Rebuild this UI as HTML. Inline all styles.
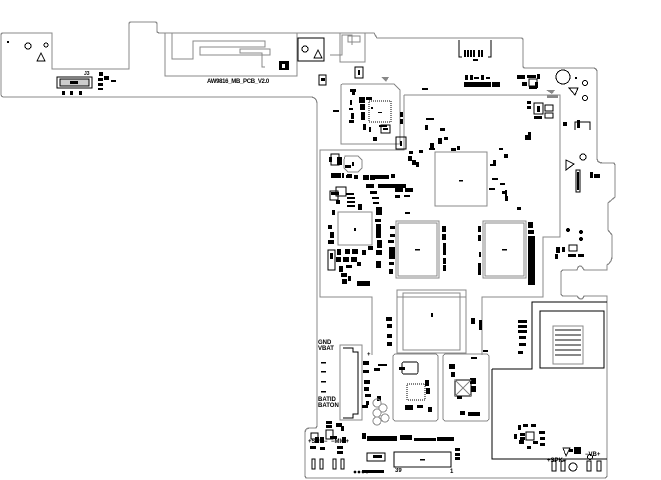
<!DOCTYPE html>
<html><head><meta charset="utf-8"><style>
html,body{margin:0;padding:0;background:#fff;width:661px;height:480px;overflow:hidden}
svg{display:block}
text{font-family:"Liberation Sans",sans-serif;font-weight:bold;fill:#000}
</style></head><body>
<svg width="661" height="480" viewBox="0 0 661 480" xmlns="http://www.w3.org/2000/svg" shape-rendering="crispEdges">
<path d="M3,33 H52 V69 H129 V24 Q129,22 131,22 H155 Q157,22 157,24 V31 Q157,33 160,33 H374 L377,38 H521 Q523,38 523,40 V66 Q523,68 525,68 H593 Q597,68 597,72 V158 Q597,163 603,163 H613 Q615,163 615,166 V197 L608,203 V230 L612,235 V256 Q612,262 607,265 V270 H584 Q582,266 580,266 Q578,266 577,270 H564 Q561,270 561,273 V293 Q561,296 564,296 H577 Q579,299 581,299 Q583,299 584,296 H607 V475 Q607,478 604,478 H307 Q305,478 305,475 V433 Q305,428 310,428 H315 Q317,428 317,425 V104 Q317,97 310,97 H4 Q1,97 1,94 V35 Q1,33 3,33 Z" fill="none" stroke="#888" stroke-width="1.2"/>
<g fill="none" stroke="#888" stroke-width="1">
<rect x="165" y="33" width="132" height="43"/>
<path d="M172,33 V59 H193 V41 H265 V47 H200 V55 H270 V49 H240 V53 H262 V67 H265"/>
<rect x="340" y="33" width="25" height="29"/>
<path d="M330,55 H342 V35 H352 V45"/>
<rect x="348" y="36" width="12" height="6"/>
<path d="M341,86 Q341,84 343,84 H394 L400,90 V144 H341 Z"/>
<path d="M404,95 H560 V237 H543 V297 H482 V355 M466,297 H397 M372,355 V297 H320 V150 H404 V95"/>
<rect x="397" y="290" width="69" height="63"/>
<rect x="403" y="293" width="57" height="57"/>
<rect x="393" y="354" width="45" height="67" rx="3"/>
<rect x="443" y="354" width="46" height="67" rx="3"/>
<rect x="340" y="345" width="22" height="75"/>
</g>
<rect x="298" y="38" width="26" height="23" fill="none" stroke="#000" stroke-width="1"/>
<circle cx="305" cy="49" r="3" fill="none" stroke="#000"/>
<path d="M314,58 L318,50 L322,58 Z" fill="none" stroke="#000"/>
<rect x="7" y="41" width="2" height="2" fill="#000"/>
<circle cx="28" cy="46" r="3" fill="none" stroke="#000"/>
<circle cx="46" cy="45" r="2" fill="none" stroke="#000"/>
<path d="M37,61 L41,53 L45,61 Z" fill="none" stroke="#000"/>
<rect x="57" y="77" width="35" height="11" fill="none" stroke="#000"/>
<rect x="60" y="79" width="29" height="7" fill="#ccc" stroke="#000" stroke-width=".6"/>
<rect x="70" y="81" width="8" height="3" fill="#000"/>
<text x="84" y="75" font-size="5">J3</text>
<g fill="#000">
<rect x="62" y="91" width="3" height="4"/><rect x="70" y="91" width="3" height="4"/><rect x="79" y="91" width="3" height="4"/>
<rect x="99" y="72" width="4" height="4"/><rect x="98" y="78" width="5" height="3"/><rect x="98" y="83" width="5" height="3"/><rect x="104" y="76" width="5" height="4"/><rect x="111" y="80" width="5" height="2"/><rect x="98" y="88" width="5" height="2"/>
<rect x="279" y="61" width="10" height="9"/><rect x="282" y="64" width="3" height="4" fill="#fff"/>
</g>
<text x="207" y="83" font-size="6" font-weight="normal" letter-spacing="-0.3">AW9816_MB_PCB_V2.0</text>
<rect x="355" y="67" width="8" height="11" fill="none" stroke="#000"/><rect x="358" y="70" width="2" height="5" fill="#000"/>
<rect x="319" y="75" width="7" height="10" fill="none" stroke="#000"/><rect x="321" y="78" width="4" height="3" fill="#000"/>
<path d="M381,77 H389 L386,82 Z" fill="#888"/>
<path d="M459,40 V57 H462 M491,40 V57 H488" fill="none" stroke="#000"/>
<g fill="#000">
<rect x="464" y="50" width="2" height="7"/><rect x="467" y="50" width="2" height="7"/><rect x="470" y="50" width="2" height="7"/><rect x="473" y="50" width="2" height="7"/><rect x="478" y="50" width="2" height="7"/><rect x="481" y="50" width="2" height="7"/>
<rect x="473" y="59" width="5" height="2"/><rect x="422" y="88" width="6" height="2"/>
<rect x="465" y="75" width="3" height="5"/><rect x="470" y="75" width="3" height="5"/><rect x="474" y="77" width="5" height="2"/><rect x="481" y="75" width="3" height="5"/><rect x="486" y="77" width="4" height="2"/>
<rect x="464" y="82" width="27" height="5"/><rect x="492" y="82" width="8" height="5"/>
<rect x="517" y="75" width="8" height="4"/><rect x="527" y="75" width="9" height="3"/><rect x="537" y="74" width="3" height="5"/><rect x="522" y="82" width="5" height="4"/><rect x="529" y="86" width="8" height="3"/><rect x="535" y="82" width="3" height="6"/>
</g>
<rect x="529" y="79" width="8" height="7" fill="none" stroke="#000"/>
<circle cx="563" cy="77" r="7" fill="none" stroke="#000"/>
<circle cx="585" cy="83" r="2.5" fill="none" stroke="#000"/><circle cx="585" cy="98" r="2.5" fill="none" stroke="#000"/>
<rect x="575" y="77" width="2" height="2" fill="#000"/>
<path d="M569,88 H578 L575,95 Z" fill="none" stroke="#000"/>
<path d="M546,90 H555 L552,94 Z" fill="#888"/>
<rect x="547" y="95" width="11" height="3" fill="#888"/>
<rect x="534" y="103" width="9" height="11" fill="none" stroke="#000"/><rect x="537" y="106" width="3" height="6" fill="#000"/>
<rect x="545" y="105" width="8" height="6" fill="none" stroke="#000"/><rect x="545" y="113" width="8" height="5" fill="none" stroke="#000"/>
<g fill="#000"><rect x="527" y="101" width="4" height="3"/><rect x="527" y="106" width="4" height="3"/><rect x="534" y="116" width="8" height="3"/><rect x="563" y="122" width="4" height="4"/><rect x="577" y="120" width="3" height="8"/></g>
<path d="M575,130 V122 H590 V130" fill="none" stroke="#000"/>
<circle cx="583" cy="157" r="3" fill="none" stroke="#000"/>
<path d="M566,160 V170 L574,164 Z" fill="none" stroke="#000"/>
<rect x="576" y="170" width="4" height="22" fill="none" stroke="#000"/><rect x="577" y="172" width="2" height="18" fill="#000"/>
<g fill="#000"><rect x="590" y="172" width="3" height="6"/><rect x="594" y="174" width="6" height="4"/>
<circle cx="568" cy="230" r="2"/><circle cx="581" cy="232" r="2"/><circle cx="581" cy="239" r="2"/>
<rect x="556" y="247" width="4" height="6"/><rect x="562" y="247" width="3" height="5"/><rect x="568" y="254" width="8" height="3"/><rect x="578" y="254" width="6" height="3"/><rect x="555" y="254" width="3" height="5"/></g>
<rect x="569" y="245" width="8" height="6" fill="none" stroke="#000"/>
<rect x="369" y="101" width="22" height="21" fill="none" stroke="#000" stroke-dasharray="1,1"/>
<rect x="378" y="112" width="4" height="1" fill="#000"/>
<rect x="381" y="125" width="9" height="8" fill="none" stroke="#000"/><rect x="383" y="128" width="5" height="2" fill="#000"/>
<g fill="#000">
<rect x="350" y="89" width="6" height="3"/><rect x="352" y="92" width="3" height="3"/><rect x="350" y="100" width="2" height="5"/><rect x="333" y="110" width="6" height="2"/>
<rect x="359" y="97" width="6" height="6"/><rect x="366" y="97" width="6" height="3"/><rect x="360" y="104" width="5" height="6"/><rect x="361" y="112" width="4" height="8"/><rect x="363" y="124" width="3" height="6"/>
<rect x="349" y="108" width="4" height="2"/><rect x="351" y="113" width="3" height="6"/><rect x="349" y="120" width="5" height="3"/><rect x="369" y="127" width="2" height="5"/><rect x="373" y="137" width="4" height="4"/><rect x="379" y="125" width="8" height="2"/>
<rect x="371" y="107" width="2" height="2"/>
</g>
<g fill="none" stroke="#888" stroke-width="1.2">
<rect x="435" y="152" width="52" height="54"/>
<rect x="338" y="212" width="34" height="33"/>
<rect x="396" y="221" width="43" height="57"/><rect x="398" y="223" width="39" height="53"/>
<rect x="483" y="221" width="43" height="57"/><rect x="485" y="223" width="39" height="53"/>
</g>
<g fill="#000">
<rect x="459" y="180" width="4" height="1.5"/><rect x="354" y="228" width="2" height="3"/><rect x="415" y="249" width="5" height="1.5"/><rect x="502" y="249" width="5" height="1.5"/><rect x="431" y="313" width="2" height="4"/>
</g>
<g fill="#000">
<rect x="329" y="157" width="3" height="5"/><rect x="337" y="157" width="5" height="8"/><rect x="345" y="165" width="6" height="3"/>
<rect x="331" y="173" width="10" height="5"/><rect x="342" y="173" width="2" height="5"/><rect x="346" y="175" width="4" height="3"/><rect x="354" y="175" width="4" height="4"/><rect x="363" y="175" width="6" height="5"/><rect x="370" y="175" width="5" height="5"/>
<rect x="375" y="175" width="14" height="4"/><rect x="391" y="174" width="4" height="4"/><rect x="347" y="174" width="5" height="4"/>
<rect x="378" y="184" width="28" height="4"/><rect x="366" y="184" width="8" height="4"/>
<rect x="331" y="192" width="8" height="3"/><rect x="346" y="193" width="8" height="2"/><rect x="347" y="197" width="8" height="2"/><rect x="347" y="201" width="8" height="2"/><rect x="347" y="205" width="8" height="2"/>
<rect x="370" y="191" width="7" height="3"/><rect x="372" y="197" width="7" height="2"/><rect x="373" y="202" width="6" height="2"/><rect x="378" y="207" width="4" height="6"/>
<rect x="336" y="200" width="4" height="4"/><rect x="358" y="204" width="4" height="6"/><rect x="332" y="210" width="3" height="5"/>
<rect x="395" y="188" width="8" height="4"/><rect x="405" y="188" width="8" height="4"/><rect x="395" y="195" width="5" height="3"/><rect x="404" y="195" width="6" height="2"/><rect x="405" y="212" width="5" height="2"/>
<rect x="408" y="156" width="4" height="5"/><rect x="412" y="160" width="4" height="5"/><rect x="416" y="162" width="3" height="5"/><rect x="409" y="151" width="4" height="3"/><rect x="419" y="150" width="4" height="3"/><rect x="429" y="148" width="6" height="2"/>
<rect x="430" y="143" width="4" height="6"/><rect x="438" y="138" width="4" height="6"/><rect x="444" y="137" width="4" height="3"/><rect x="440" y="128" width="5" height="3"/><rect x="425" y="125" width="3" height="5"/>
<rect x="426" y="118" width="8" height="2"/><rect x="400" y="112" width="3" height="5"/><rect x="400" y="119" width="3" height="5"/>
<rect x="451" y="148" width="5" height="3"/><rect x="457" y="146" width="3" height="4"/><rect x="499" y="148" width="4" height="2"/><rect x="504" y="154" width="4" height="4"/><rect x="490" y="164" width="6" height="2"/><rect x="493" y="160" width="3" height="6"/>
<rect x="489" y="188" width="6" height="2"/><rect x="502" y="191" width="5" height="3"/><rect x="505" y="196" width="3" height="5"/><rect x="517" y="207" width="4" height="3"/><rect x="492" y="178" width="6" height="2"/><rect x="500" y="183" width="5" height="2"/><rect x="505" y="190" width="2" height="6"/>
<rect x="525" y="135" width="3" height="5"/><rect x="528" y="132" width="3" height="8"/>
</g>
<rect x="396" y="137" width="10" height="12" fill="none" stroke="#000"/><rect x="400" y="141" width="2" height="5" fill="#000"/>
<rect x="331" y="154" width="8" height="11" fill="none" stroke="#000"/>
<path d="M345,156 H358 L362,160 V168 L358,172 H348 L344,168 V160 Z" fill="none" stroke="#888"/>
<rect x="352" y="162" width="2" height="4" fill="#000"/>
<rect x="330" y="191" width="8" height="9" fill="none" stroke="#000"/>
<rect x="336" y="187" width="10" height="9" fill="none" stroke="#000"/>
<rect x="328" y="250" width="7" height="20" fill="none" stroke="#000"/><rect x="330" y="253" width="3" height="6" fill="#000"/>
<g fill="#000">
<rect x="376" y="207" width="6" height="8"/><rect x="375" y="219" width="6" height="3"/><rect x="376" y="224" width="5" height="14"/><rect x="377" y="240" width="5" height="8"/>
<rect x="328" y="225" width="4" height="4"/><rect x="330" y="232" width="4" height="6"/><rect x="328" y="240" width="6" height="4"/>
<rect x="337" y="249" width="4" height="6"/><rect x="345" y="249" width="5" height="5"/><rect x="352" y="249" width="6" height="5"/><rect x="362" y="250" width="4" height="5"/><rect x="368" y="246" width="5" height="4"/><rect x="376" y="250" width="6" height="5"/>
<rect x="336" y="257" width="5" height="5"/><rect x="343" y="257" width="6" height="5"/><rect x="351" y="257" width="6" height="5"/><rect x="357" y="262" width="4" height="4"/><rect x="346" y="265" width="6" height="3"/>
<rect x="339" y="266" width="4" height="6"/><rect x="341" y="273" width="6" height="4"/><rect x="342" y="279" width="5" height="5"/><rect x="348" y="276" width="3" height="5"/>
<rect x="357" y="281" width="13" height="5"/><rect x="376" y="261" width="5" height="7"/>
<rect x="390" y="226" width="5" height="3"/><rect x="390" y="234" width="5" height="3"/><rect x="388" y="240" width="6" height="3"/><rect x="389" y="247" width="6" height="12"/><rect x="389" y="262" width="5" height="3"/><rect x="389" y="269" width="4" height="5"/>
<rect x="442" y="226" width="4" height="6"/><rect x="442" y="234" width="4" height="6"/><rect x="443" y="243" width="3" height="12"/><rect x="443" y="258" width="3" height="6"/><rect x="443" y="265" width="3" height="6"/>
<rect x="478" y="226" width="3" height="6"/><rect x="478" y="235" width="3" height="6"/><rect x="479" y="252" width="2" height="5"/><rect x="478" y="263" width="3" height="12"/>
<rect x="528" y="222" width="5" height="6"/><rect x="528" y="230" width="6" height="4"/><rect x="528" y="236" width="7" height="49"/>
</g>
<path d="M492,369 H532 V302 H607 M492,369 V459 H607" fill="none" stroke="#000" stroke-width="1.3"/>
<rect x="540" y="311" width="64" height="57" fill="none" stroke="#000"/>
<rect x="553" y="326" width="30" height="38" fill="none" stroke="#888"/>
<g fill="#888"><rect x="555" y="329" width="26" height="2"/><rect x="555" y="334" width="26" height="2"/><rect x="555" y="339" width="26" height="2"/><rect x="555" y="344" width="26" height="2"/><rect x="555" y="349" width="26" height="2"/><rect x="555" y="354" width="26" height="2"/></g>
<g fill="#000">
<rect x="518" y="320" width="9" height="3"/><rect x="518" y="325" width="9" height="3"/><rect x="518" y="330" width="9" height="3"/><rect x="519" y="336" width="7" height="3"/><rect x="519" y="343" width="7" height="3"/><rect x="518" y="351" width="5" height="3"/>
<rect x="386" y="317" width="6" height="4"/><rect x="387" y="324" width="5" height="4"/><rect x="387" y="334" width="5" height="4"/><rect x="387" y="342" width="5" height="4"/>
<rect x="471" y="318" width="4" height="6"/><rect x="479" y="320" width="3" height="10"/>
</g>
<text x="318" y="344" font-size="6">GND</text>
<text x="318" y="350" font-size="6">VBAT</text>
<text x="318" y="401" font-size="6">BATID</text>
<text x="318" y="407" font-size="6">BATON</text>
<text x="367" y="356" font-size="6">+</text>
<text x="308" y="443" font-size="6">+SPK−</text>
<text x="331" y="443" font-size="6">−MIC+</text>
<text x="547" y="462" font-size="6">+SPK−</text>
<text x="585" y="456" font-size="6">−VB+</text>
<text x="395" y="472" font-size="6" font-weight="normal">39</text>
<text x="450" y="473" font-size="6" font-weight="normal">1</text>
<g fill="#000">
<rect x="321" y="362" width="5" height="1.5"/><rect x="321" y="371" width="5" height="1.5"/><rect x="321" y="381" width="5" height="1.5"/><rect x="321" y="391" width="5" height="1.5"/>
<rect x="363" y="361" width="6" height="4"/><rect x="363" y="370" width="6" height="3"/><rect x="364" y="380" width="6" height="4"/><rect x="364" y="387" width="5" height="4"/><rect x="365" y="394" width="6" height="3"/><rect x="366" y="401" width="3" height="4"/><rect x="362" y="405" width="6" height="3"/>
<rect x="378" y="364" width="9" height="2"/><rect x="374" y="368" width="6" height="3"/><rect x="377" y="396" width="4" height="5"/>
<rect x="326" y="421" width="6" height="3"/><rect x="326" y="425" width="6" height="3"/><rect x="336" y="423" width="6" height="4"/><rect x="341" y="426" width="3" height="5"/>
<rect x="315" y="437" width="4" height="6"/><rect x="320" y="437" width="4" height="6"/><rect x="330" y="436" width="7" height="3"/><rect x="342" y="437" width="4" height="6"/>
<rect x="310" y="446" width="6" height="3"/><rect x="320" y="447" width="5" height="3"/><rect x="337" y="446" width="6" height="3"/><rect x="337" y="451" width="6" height="3"/>
<rect x="362" y="433" width="4" height="6"/><rect x="367" y="436" width="30" height="5"/><rect x="400" y="435" width="12" height="5"/><rect x="414" y="438" width="22" height="3"/><rect x="437" y="437" width="17" height="4"/>
<rect x="455" y="448" width="5" height="3"/><rect x="455" y="453" width="5" height="3"/><rect x="455" y="457" width="5" height="3"/>
<rect x="362" y="470" width="22" height="3"/>
<rect x="425" y="380" width="4" height="6"/><rect x="426" y="388" width="4" height="6"/><rect x="417" y="405" width="6" height="3"/><rect x="405" y="405" width="8" height="5"/><rect x="428" y="407" width="4" height="5"/><rect x="399" y="367" width="6" height="3"/>
<rect x="449" y="364" width="6" height="5"/><rect x="451" y="372" width="4" height="5"/><rect x="470" y="378" width="6" height="6"/><rect x="471" y="386" width="5" height="6"/><rect x="457" y="396" width="5" height="3"/><rect x="468" y="412" width="12" height="4"/><rect x="460" y="411" width="5" height="4"/>
<rect x="471" y="357" width="6" height="2"/><rect x="483" y="350" width="5" height="2"/>
<rect x="518" y="425" width="3" height="5"/><rect x="523" y="424" width="5" height="3"/><rect x="531" y="424" width="5" height="3"/><rect x="514" y="434" width="3" height="5"/><rect x="520" y="433" width="5" height="3"/><rect x="520" y="437" width="5" height="3"/><rect x="539" y="431" width="6" height="3"/><rect x="540" y="437" width="5" height="3"/><rect x="540" y="443" width="5" height="3"/><rect x="533" y="441" width="5" height="3"/><rect x="527" y="446" width="4" height="3"/><rect x="519" y="440" width="5" height="4"/>
<rect x="569" y="449" width="4" height="3"/><rect x="574" y="447" width="7" height="7"/>
</g>
<g fill="none" stroke="#000" stroke-width=".8">
<path d="M343,348 H353 V352 H358 V414 H353 V418 H343"/>
<rect x="311" y="433" width="7" height="6"/><rect x="326" y="430" width="7" height="9"/>
<rect x="312" y="459" width="3" height="10"/><rect x="320" y="459" width="3" height="10"/><rect x="333" y="459" width="3" height="10"/><rect x="341" y="459" width="3" height="10"/>
<rect x="367" y="453" width="18" height="8"/><rect x="394" y="452" width="57" height="15"/>
<rect x="402" y="362" width="16" height="12" rx="2"/><rect x="407" y="384" width="18" height="16" stroke-dasharray="1,1"/>
<rect x="455" y="380" width="16" height="16"/><path d="M455,380 L471,396 M471,380 L455,396" stroke="#888"/>
<rect x="552" y="461" width="4" height="10"/><rect x="561" y="461" width="4" height="10"/><rect x="587" y="461" width="4" height="10"/><rect x="597" y="461" width="4" height="10"/>
<rect x="526" y="432" width="8" height="8"/>
<path d="M563,448 H570 L566,456 Z"/>
</g>
<circle cx="573" cy="467" r="4" fill="none" stroke="#000"/>
<circle cx="590" cy="457" r="2.5" fill="none" stroke="#000"/>
<circle cx="355" cy="472" r="1.4" fill="#000"/><circle cx="359" cy="472" r="1.4" fill="#000"/><circle cx="363" cy="472" r="1.4" fill="#000"/><circle cx="367" cy="472" r="1.4" fill="#000"/>
<rect x="396" y="466" width="54" height="2" fill="#888"/>
<rect x="373" y="455" width="9" height="3" fill="#000"/>
<rect x="420" y="459" width="5" height="1.5" fill="#000"/>
<g fill="none" stroke="#888"><circle cx="377" cy="403" r="4"/><circle cx="383" cy="408" r="4"/><circle cx="377" cy="413" r="4"/><circle cx="385" cy="418" r="4"/><circle cx="377" cy="421" r="4"/></g>
</svg>
</body></html>
